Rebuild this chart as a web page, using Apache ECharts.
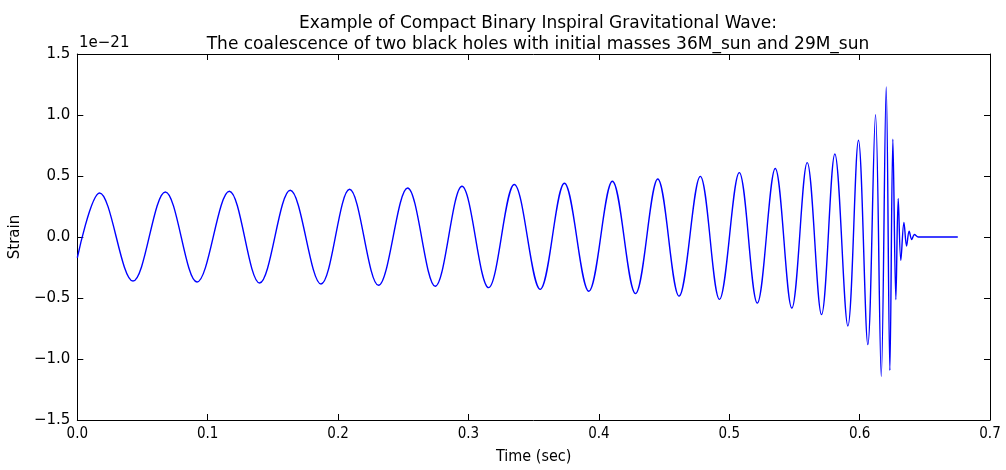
<!DOCTYPE html>
<html>
<head>
<meta charset="utf-8">
<script src="https://cdn.jsdelivr.net/npm/echarts@6/dist/echarts.min.js"></script>
<style>html,body{margin:0;padding:0;background:#fff}#c{width:1006px;height:470px}</style>
</head>
<body>
<div id="c"></div>
<script>
// Time (sec) and strain (units of 1e-21): start, peaks/troughs, flat tail
const timeSec = [
  0.0000, 0.0171, 0.0427, 0.0675, 0.0918, 0.1166, 0.1398, 0.1633, 0.1869, 0.2088,
  0.2310, 0.2533, 0.2745, 0.2950, 0.3154, 0.3351, 0.3550, 0.3736, 0.3923, 0.4104,
  0.4281, 0.4452, 0.4615, 0.4778, 0.4925, 0.5077, 0.5215, 0.5353, 0.5480, 0.5598,
  0.5708, 0.5810, 0.5910, 0.5991, 0.6063, 0.6122, 0.6166, 0.6204, 0.6232, 0.6255,
  0.6278, 0.6296, 0.6316, 0.6340, 0.6360, 0.6380, 0.6400, 0.6420, 0.6450, 0.6753
];
const strain = [
  -0.170, 0.361, -0.361, 0.369, -0.369, 0.375, -0.377, 0.383, -0.385, 0.391,
  -0.396, 0.402, -0.404, 0.416, -0.415, 0.430, -0.429, 0.440, -0.445, 0.457,
  -0.464, 0.475, -0.485, 0.497, -0.511, 0.528, -0.541, 0.561, -0.582, 0.610,
  -0.636, 0.680, -0.729, 0.793, -0.882, 1.003, -1.142, 1.230, -1.093, 0.801,
  -0.513, 0.315, -0.191, 0.120, -0.074, 0.047, -0.021, 0.020, 0.000, 0.000
];
const xTicks = ['0.0','0.1','0.2','0.3','0.4','0.5','0.6','0.7'];
const yTicks = ['\u22121.5','\u22121.0','\u22120.5','0.0','0.5','1.0','1.5'];
const titleText = 'Example of Compact Binary Inspiral Gravitational Wave:\nThe coalescence of two black holes with initial masses 36M_sun and 29M_sun';

const data = timeSec.map((t, i) => [t, strain[i]]);
const chart = echarts.init(document.getElementById('c'), null, {renderer: 'canvas'});
const font = 'DejaVu Sans';
const tickCommon = {show: true, inside: true, length: 6, lineStyle: {color: '#000', width: 1}};
const lineCommon = {show: true, onZero: false, lineStyle: {color: '#000', width: 1}};
const xLab = v => xTicks[Math.round(v * 10)] || '';
const yLab = v => yTicks[Math.round((v + 1.5) * 2)] || '';
chart.setOption({
  animation: false,
  backgroundColor: '#fff',
  title: {
    text: titleText, left: 533, top: 8, textAlign: 'center',
    textStyle: {fontFamily: font, fontSize: 17, fontWeight: 'normal', color: '#000', lineHeight: 21}
  },
  graphic: [{
    type: 'text', left: 79, top: 36,
    style: {text: '1e\u221221', font: '15px "DejaVu Sans"', fill: '#000'}
  }],
  grid: {left: 77, right: 16, top: 54, bottom: 50},
  xAxis: [{
    type: 'value', min: 0, max: 0.7, interval: 0.1, position: 'bottom',
    name: 'Time (sec)', nameLocation: 'middle', nameGap: 29,
    nameTextStyle: {fontFamily: 'DejaVu Sans Condensed, DejaVu Sans', fontSize: 16, color: '#000'},
    axisLine: lineCommon, axisTick: tickCommon, splitLine: {show: false},
    axisLabel: {formatter: xLab, fontFamily: 'DejaVu Sans Condensed, DejaVu Sans', fontSize: 15, color: '#000', margin: 7}
  }, {
    type: 'value', min: 0, max: 0.7, interval: 0.1, position: 'top',
    axisLine: lineCommon, axisTick: tickCommon, splitLine: {show: false}, axisLabel: {show: false}
  }],
  yAxis: [{
    type: 'value', min: -1.5, max: 1.5, interval: 0.5, position: 'left',
    name: 'Strain', nameLocation: 'middle', nameGap: 52,
    nameTextStyle: {fontFamily: font, fontSize: 15, color: '#000'},
    axisLine: lineCommon, axisTick: tickCommon, splitLine: {show: false},
    axisLabel: {formatter: yLab, fontFamily: font, fontSize: 15, color: '#000', margin: 7}
  }, {
    type: 'value', min: -1.5, max: 1.5, interval: 0.5, position: 'right',
    axisLine: lineCommon, axisTick: tickCommon, splitLine: {show: false}, axisLabel: {show: false}
  }],
  series: [{
    type: 'line', data: data, xAxisIndex: 0, yAxisIndex: 0,
    showSymbol: false, smooth: 0.36,
    lineStyle: {color: '#0000ff', width: 1.4}
  }]
});
</script>
</body>
</html>
